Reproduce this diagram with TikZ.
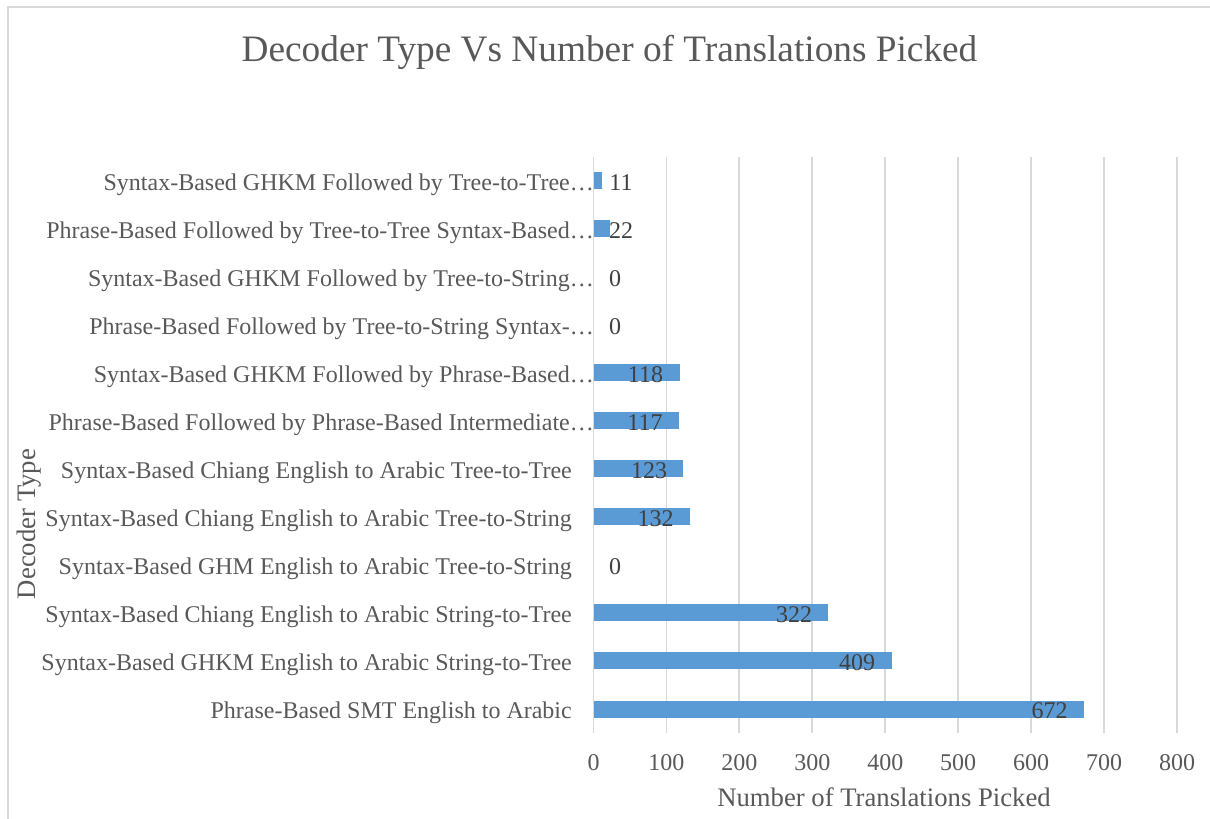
\documentclass[tikz,border=0pt]{standalone}
\usepackage{fontspec}
\setmainfont{Liberation Serif}
\definecolor{txtc}{HTML}{595959}
\definecolor{dlabc}{HTML}{404040}
\definecolor{gridc}{HTML}{D9D9D9}
\definecolor{barc}{HTML}{5B9BD5}
\tikzset{
  ticklab/.style={text=txtc, font=\fontsize{24}{28}\selectfont, inner sep=0pt},
  catlab/.style={text=txtc, font=\fontsize{24}{28}\selectfont, inner sep=0pt, anchor=base east},
  datalab/.style={text=dlabc, font=\fontsize{24}{28}\selectfont, inner sep=0pt},
  axtitle/.style={text=txtc, font=\fontsize{26.7}{30}\selectfont, inner sep=0pt},
  charttitle/.style={text=txtc, font=\fontsize{37.3}{41}\selectfont, inner sep=0pt, anchor=base},
  gridline/.style={draw=gridc, line width=1.8pt},
  barfill/.style={fill=barc},
}
\begin{document}
\begin{tikzpicture}[x=1pt,y=-1pt]
\useasboundingbox (0,0) rectangle (1210,819);
\fill[white] (0,0) rectangle (1210,819);
% chart frame
\draw[gridline] (8,819) -- (8,7) -- (1210,7);
% title
\node[charttitle] (title) at (609.5,61.5) {Decoder Type Vs Number of Translations Picked};
% gridlines and x tick labels
\foreach \k in {0,...,8}{
  \pgfmathsetmacro{\gx}{593.5+72.94*\k}
  \pgfmathtruncatemacro{\val}{100*\k}
  \draw[gridline] (\gx,157) -- (\gx,733);
  \node[ticklab] (tick\k) at (\gx,763) {\val};
}
% bars and category labels
\foreach \i/\v/\lab/\lx/\dx in {
  0/672/{Phrase-Based SMT English to Arabic}/572/1049.5,
  1/409/{Syntax-Based GHKM English to Arabic String-to-Tree}/572/857,
  2/322/{Syntax-Based Chiang English to Arabic String-to-Tree}/572/794,
  3/0/{Syntax-Based GHM English to Arabic Tree-to-String}/572/615,
  4/132/{Syntax-Based Chiang English to Arabic Tree-to-String}/572/655.5,
  5/123/{Syntax-Based Chiang English to Arabic Tree-to-Tree}/572/649,
  6/117/{Phrase-Based Followed by Phrase-Based Intermediate…}/594/645,
  7/118/{Syntax-Based GHKM Followed by Phrase-Based…}/594/645.5,
  8/0/{Phrase-Based Followed by Tree-to-String Syntax-…}/594/615,
  9/0/{Syntax-Based GHKM Followed by Tree-to-String…}/594/615,
  10/22/{Phrase-Based Followed by Tree-to-Tree Syntax-Based…}/594/621,
  11/11/{Syntax-Based GHKM Followed by Tree-to-Tree…}/594/621}{
  \pgfmathsetmacro{\ry}{709-48.03*\i}
  \pgfmathsetmacro{\bx}{593.5+0.7294*\v}
  \ifnum\v>0
    \fill[barfill] (593.5,\ry-8.5) rectangle (\bx,\ry+8.5);
  \fi
  \node[catlab] (cat\i) at (\lx,\ry+9.5) {\lab};
  \node[datalab] (val\i) at (\dx,\ry+1.5) {\v};
}
% axis titles
\node[axtitle] (xtitle) at (884,797) {Number of Translations Picked};
\node[axtitle, rotate=90] (ytitle) at (29,524) {Decoder Type};
\end{tikzpicture}
\end{document}
